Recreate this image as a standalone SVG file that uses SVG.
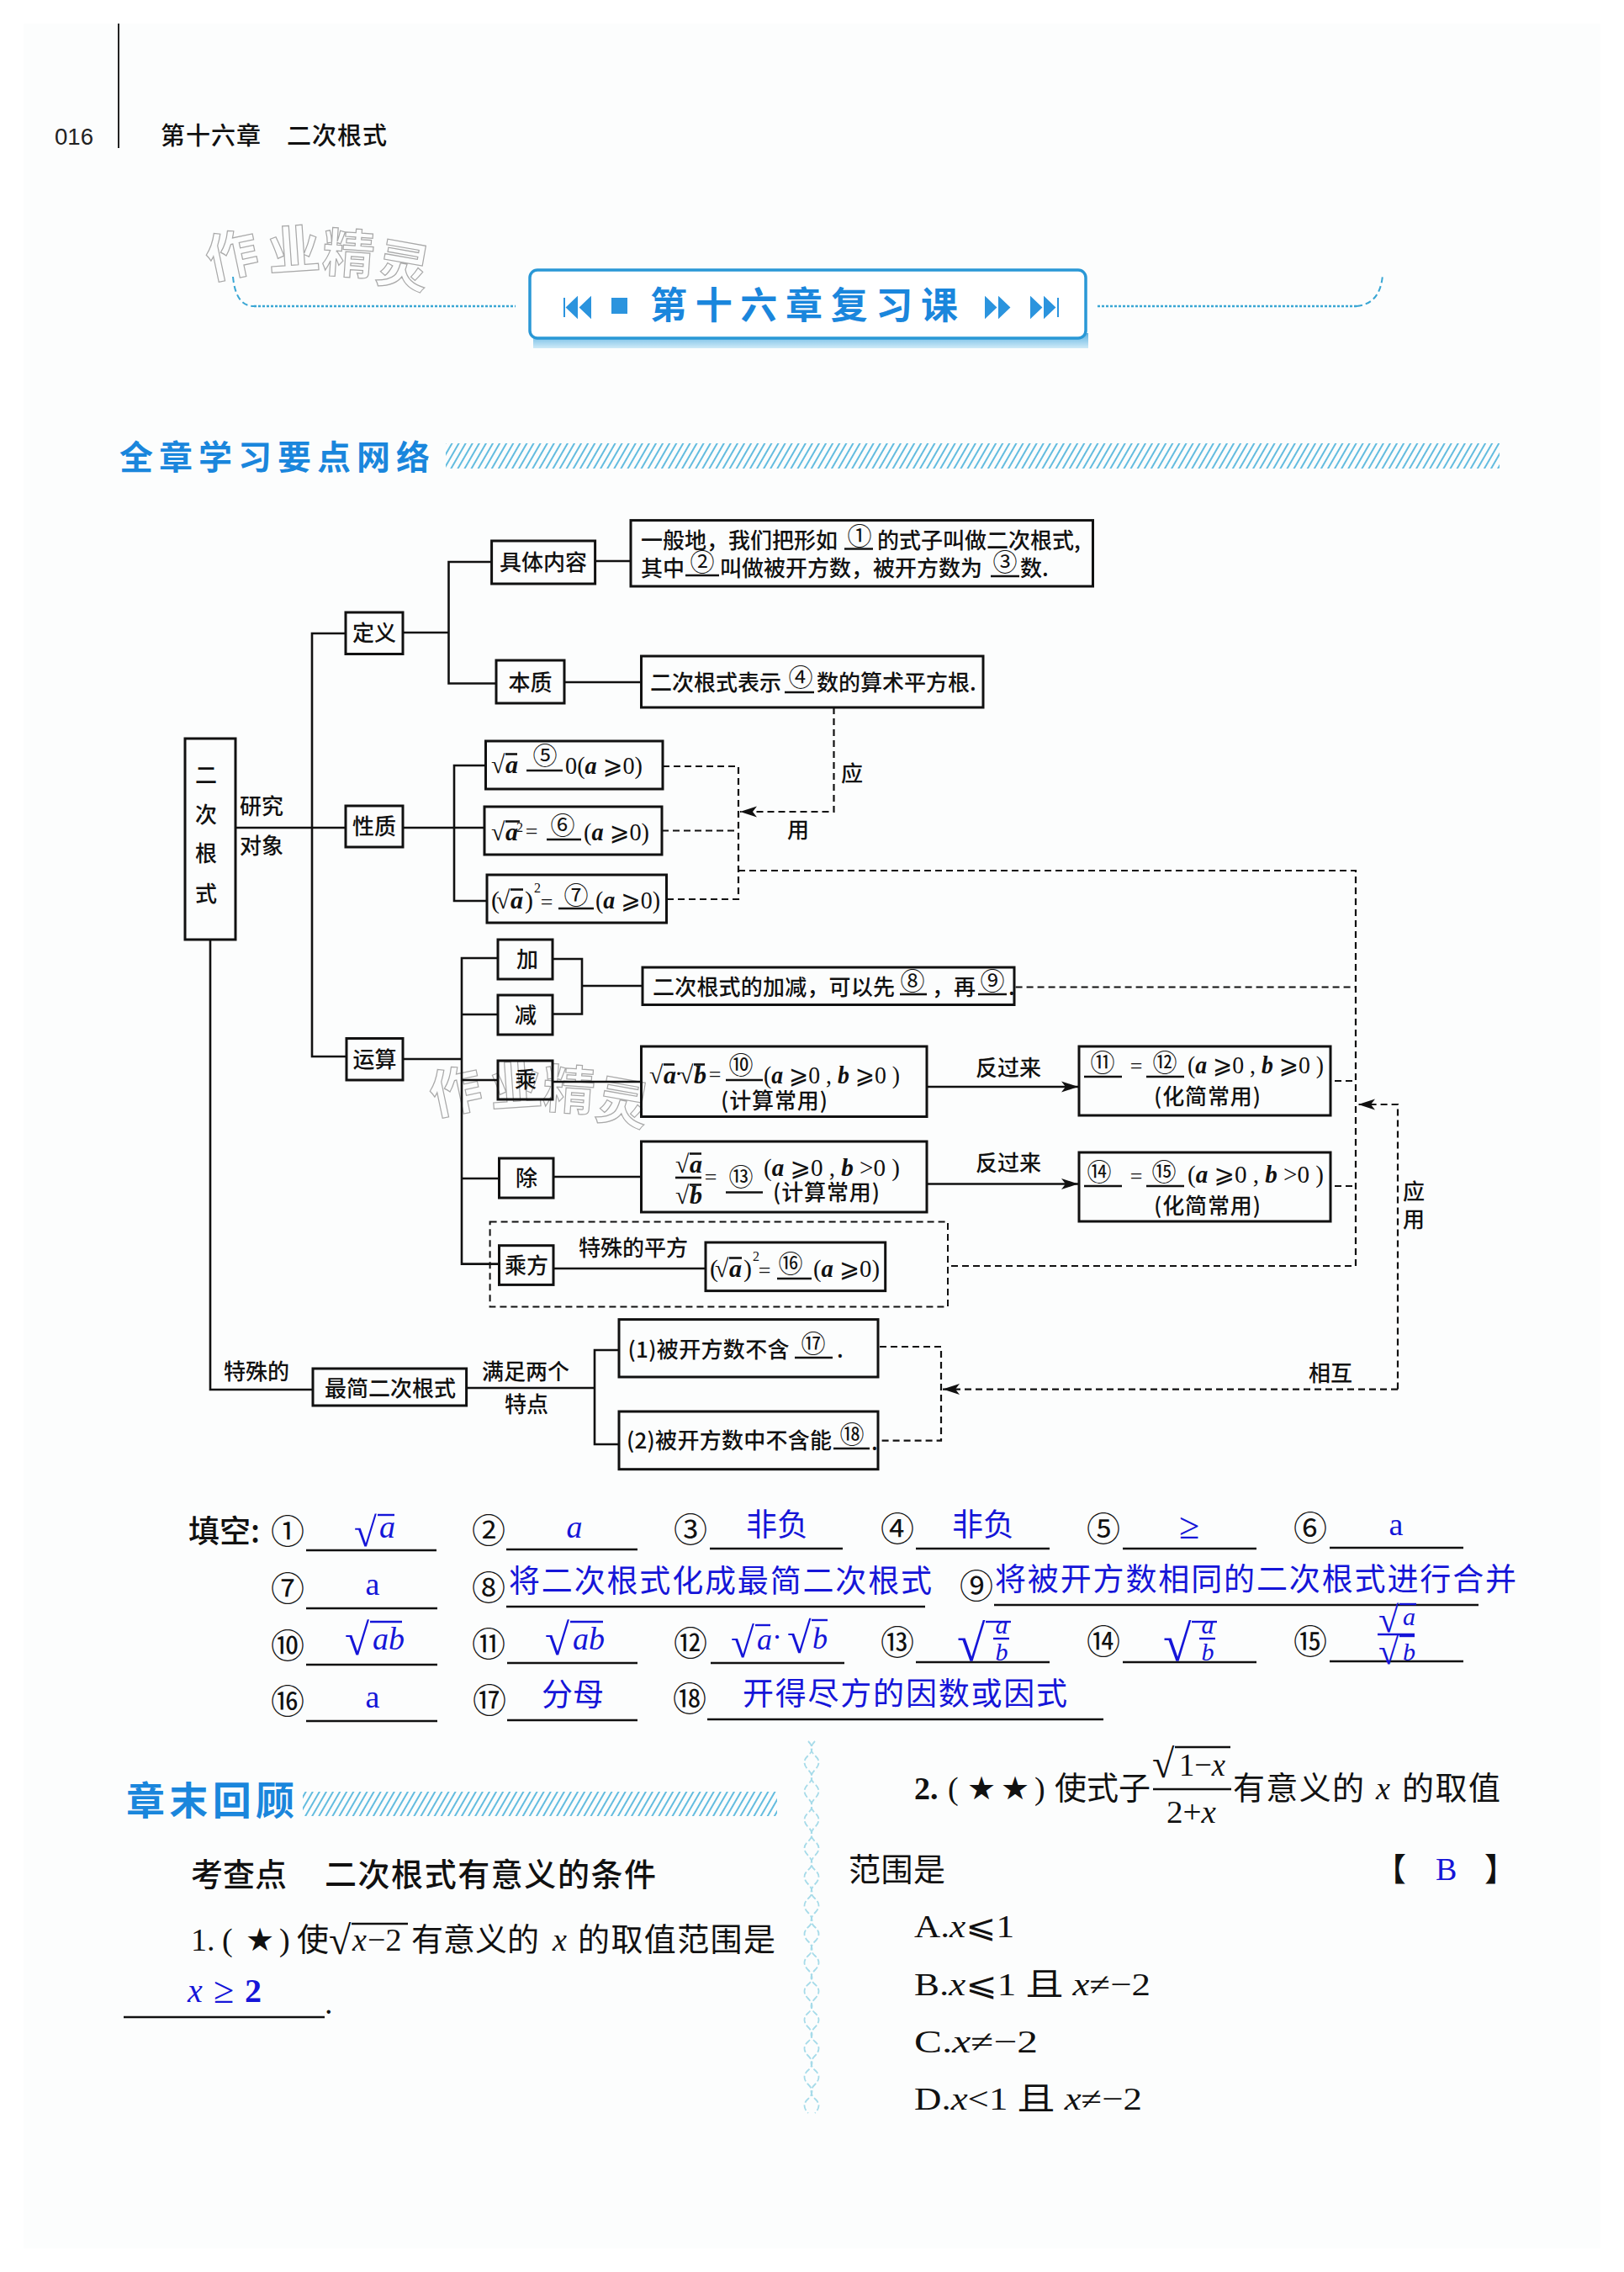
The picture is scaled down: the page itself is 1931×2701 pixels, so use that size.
<svg xmlns="http://www.w3.org/2000/svg" width="1931" height="2701" viewBox="0 0 1931 2701">
<style>
.c{font-family:"Noto Sans CJK SC",sans-serif;font-weight:500;fill:#111}
.n{font-family:"Noto Sans CJK SC",sans-serif;font-weight:400;fill:#111}
.m{font-family:"Liberation Serif","DejaVu Sans","Noto Sans CJK SC",serif;fill:#111}
.i{font-style:italic}
.bi{font-style:italic;font-weight:bold}
.s26{font-size:26px}.s30{font-size:30px}.s38{font-size:38px}.s40{font-size:40px}
.n.s26{font-size:29px}
.mid{text-anchor:middle}
.blue{font-family:"Noto Sans CJK SC",sans-serif;font-weight:400;fill:#1515d8;font-size:37px}
.bl{font-family:"Liberation Serif","Noto Sans CJK SC",serif;fill:#1515d8}
.box{fill:none;stroke:#111;stroke-width:3}
.ln{fill:none;stroke:#111;stroke-width:2.6}
.ds{fill:none;stroke:#111;stroke-width:2.2;stroke-dasharray:8 5}
.ul{stroke:#111;stroke-width:2.6}
.bul{stroke:#1515d8;stroke-width:2.4;fill:none}
.wm{font-family:"Noto Sans CJK SC",sans-serif;font-weight:700;font-size:62px;fill:none;stroke:#a8a8a8;stroke-width:1.2}
.head{font-family:"Noto Sans CJK SC",sans-serif;font-weight:700;fill:#1a86dc}
.dot{fill:none;stroke:#3aa6d4;stroke-width:2.6;stroke-dasharray:3 2}
.dash{fill:none;stroke:#3aa6d4;stroke-width:2;stroke-dasharray:7 4}
</style>
<defs>
<marker id="arrow" markerUnits="userSpaceOnUse" markerWidth="22" markerHeight="16" refX="20" refY="8" orient="auto"><path d="M0 1.5L20 8L0 14.5L5 8z" fill="#111"/></marker>
<pattern id="hatch" patternUnits="userSpaceOnUse" width="7" height="7" patternTransform="rotate(30)"><rect x="0" y="0" width="2" height="7" fill="#63bcdf"/></pattern>
<linearGradient id="shade" x1="0" y1="0" x2="0" y2="1"><stop offset="0" stop-color="#2a9ad8"/><stop offset="1" stop-color="#bfe4f6"/></linearGradient>
</defs>
<rect width="1931" height="2701" fill="#fff"/>
<rect x="28" y="28" width="1875" height="2645" fill="#fcfdfd"/>

<g id="page-header">
<line x1="141" y1="28" x2="141" y2="176" stroke="#222" stroke-width="2"/>
<text x="65" y="172" textLength="46" lengthAdjust="spacingAndGlyphs" font-family="Liberation Sans,sans-serif" font-size="28" fill="#222">016</text>
<text class="c" x="191" y="172" font-size="29" textLength="119">第十六章</text>
<text class="c" x="341" y="172" font-size="29" textLength="119">二次根式</text>
</g>

<g id="watermarks">
<text class="wm" x="250 320 382 445" y="332 322 322 333" rotate="-12 -4 4 10">作业精灵</text>
<text class="wm" x="516 584 644 706" y="1326 1316 1316 1328" rotate="-12 -4 4 10">作业精灵</text>
</g>

<g id="title-banner">
<path class="dash" d="M277 329C279 350 286 364 302 364"/>
<path class="dot" d="M302 364H613"/>
<path class="dot" d="M1305 364H1613"/>
<path class="dash" d="M1613 364C1632 362 1642 350 1644 327"/>
<rect x="634" y="396" width="660" height="18" fill="url(#shade)" opacity=".75"/>
<rect x="630" y="321" width="661" height="81" rx="9" fill="#fff" stroke="#2a98d6" stroke-width="3.5"/>
<path d="M671 354V377M686 354L674 365.5L686 377zM702 354L690 365.5L702 377z" fill="#2b94de" stroke="#2b94de" stroke-width="2"/>
<rect x="727" y="354" width="19" height="19" fill="#2b94de"/>
<path d="M1172 354L1184 365.500L1172 377zM1188 354L1200 365.500L1188 377zM1226 354L1238 365.500L1226 377zM1242 354L1254 365.500L1242 377zM1258 354V377" fill="#2b94de" stroke="#2b94de" stroke-width="2"/>
<text class="head" x="773" y="379" font-size="44" textLength="366">第十六章复习课</text>
</g>

<g id="section-heading-1">
<text class="head" x="142" y="558" font-size="40" textLength="369">全章学习要点网络</text>
<rect x="530" y="527" width="1253" height="30" fill="url(#hatch)"/>
</g>

<g id="connectors">
<path class="ln" d="M280 984H411"/>
<path class="ln" d="M411 753H371V1256H412"/>
<path class="ln" d="M479 752H533.500"/>
<path class="ln" d="M584.600 668H533.500V812.500H590"/>
<path class="ln" d="M707.600 667H750"/>
<path class="ln" d="M671 811H762.500"/>
<path class="ln" d="M479 984H576"/>
<path class="ln" d="M577.500 910H540V1071H579"/>
<path class="ln" d="M479 1259H549"/>
<path class="ln" d="M592 1139H549V1502.600H593.500"/>
<path class="ln" d="M549 1206H592"/>
<path class="ln" d="M549 1284H592"/>
<path class="ln" d="M549 1401H593.500"/>
<path class="ln" d="M657 1140H692V1205.500H657"/>
<path class="ln" d="M692 1172H764"/>
<path class="ln" d="M657 1286H762.500"/>
<path class="ln" d="M658 1399H762.500"/>
<path class="ln" d="M658 1508H839"/>
<path class="ln" d="M250 1117V1652H372"/>
<path class="ln" d="M554.600 1650H707"/>
<path class="ln" d="M736 1605H707V1717H736"/>
<path class="ln" d="M1102.500 1292H1282" marker-end="url(#arrow)"/>
<path class="ln" d="M1102.500 1407.500H1282" marker-end="url(#arrow)"/>
<path class="ds" d="M788 911H878V1069H792.500"/>
<path class="ds" d="M787 987.500H878"/>
<path class="ds" d="M991.500 841V965H880" marker-end="url(#arrow)"/>
<path class="ds" d="M878 1035H1612V1505H1127.500"/>
<path class="ds" d="M1207.600 1173.500H1612"/>
<path class="ds" d="M1587 1285H1612"/>
<path class="ds" d="M1587 1410H1612"/>
<path class="ds" d="M1662 1651.600V1313H1615" marker-end="url(#arrow)"/>
<path class="ds" d="M1662 1651.600H1121" marker-end="url(#arrow)"/>
<path class="ds" d="M1046 1601H1119V1712.600H1045"/>
</g>

<g id="connector-labels">
<text class="c s26 mid" x="1013" y="929">应</text>
<text class="c s26 mid" x="949" y="996">用</text>
<text class="c s26" x="285" y="968">研究</text>
<text class="c s26" x="285" y="1015">对象</text>
<text class="c s26" x="1160" y="1279">反过来</text>
<text class="c s26" x="1160" y="1392">反过来</text>
<text class="c s26" x="688" y="1493">特殊的平方</text>
<text class="c s26" x="266" y="1640">特殊的</text>
<text class="c s26" x="573" y="1640">满足两个</text>
<text class="c s26" x="600" y="1679">特点</text>
<text class="c s26 mid" x="1681" y="1426">应</text>
<text class="c s26 mid" x="1681" y="1459">用</text>
<text class="c s26" x="1556" y="1642">相互</text>
</g>

<g id="node-root">
<rect class="box" x="220" y="878" width="60" height="239"/>
<text class="c s26 mid" x="245" y="931">二</text>
<text class="c s26 mid" x="245" y="978">次</text>
<text class="c s26 mid" x="245" y="1024">根</text>
<text class="c s26 mid" x="245" y="1072">式</text>
</g>
<g id="node-dingyi"><rect class="box" x="411" y="728" width="68" height="49.500"/><text class="c s26 mid" x="445" y="762">定义</text></g>
<g id="node-juti"><rect class="box" x="584.600" y="643" width="123" height="51"/><text class="c s26 mid" x="646" y="678">具体内容</text></g>
<g id="node-juti-text">
<rect class="box" x="750" y="618.600" width="549.500" height="78.400"/>
<text class="c s26" x="762" y="652">一般地，我们把形如</text>
<text class="n s26 mid" x="1022" y="648">①</text>
<line class="ul" x1="1004" y1="652.500" x2="1038" y2="652.500"/>
<text class="c s26" x="1043" y="652">的式子叫做二次根式,</text>
<text class="c s26" x="762" y="685">其中</text>
<text class="n s26 mid" x="835" y="679">②</text>
<line class="ul" x1="815" y1="684" x2="855" y2="684"/>
<text class="c s26" x="856" y="685">叫做被开方数，被开方数为</text>
<text class="n s26 mid" x="1195" y="679">③</text>
<line class="ul" x1="1178" y1="685" x2="1212" y2="685"/>
<text class="c s26" x="1213" y="685">数.</text>
</g>
<g id="node-benzhi"><rect class="box" x="590" y="785" width="81" height="51"/><text class="c s26 mid" x="630.500" y="821">本质</text></g>
<g id="node-benzhi-text">
<rect class="box" x="762.500" y="780" width="406.500" height="61"/>
<text class="c s26" x="773" y="821">二次根式表示</text>
<text class="n s26 mid" x="952" y="816">④</text>
<line class="ul" x1="933" y1="823" x2="968" y2="823"/>
<text class="c s26" x="971" y="821">数的算术平方根.</text>
</g>
<g id="node-xingzhi"><rect class="box" x="411" y="958" width="68" height="49"/><text class="c s26 mid" x="445" y="992">性质</text></g>
<g id="node-p5">
<rect class="box" x="577.500" y="881" width="210.500" height="57"/>
<text class="m s30" x="584" y="919">√</text><line class="ul" x1="601" y1="896.500" x2="615" y2="896.500"/><text class="m s30 bi" x="601" y="919">a</text>
<text class="n s26 mid" x="648" y="909">⑤</text>
<line class="ul" x1="626" y1="916" x2="669" y2="916"/>
<text class="m s30" x="672" y="920" textLength="92" lengthAdjust="spacingAndGlyphs">0(<tspan class="bi">a</tspan> ⩾0)</text>
</g>
<g id="node-p6">
<rect class="box" x="576" y="959" width="211" height="57"/>
<text class="m s30" x="584" y="999">√</text><line class="ul" x1="601" y1="976.500" x2="618" y2="976.500"/><text class="m s30 bi" x="601" y="999">a</text><text class="m" font-size="16" x="614" y="989">2</text>
<text class="m s26 mid" x="632" y="997">=</text>
<text class="n s26 mid" x="669" y="992">⑥</text>
<line class="ul" x1="650" y1="998" x2="691" y2="998"/>
<text class="m s30" x="694" y="999" textLength="78" lengthAdjust="spacingAndGlyphs">(<tspan class="bi">a</tspan> ⩾0)</text>
</g>
<g id="node-p7">
<rect class="box" x="579" y="1040" width="213.500" height="57"/>
<text class="m s30" x="584" y="1080">(</text><text class="m s30" x="590" y="1080">√</text><line class="ul" x1="607" y1="1057.500" x2="622" y2="1057.500"/><text class="m s30 bi" x="607" y="1080">a</text><text class="m s30" x="624" y="1080">)</text><text class="m" font-size="16" x="635" y="1061">2</text>
<text class="m s26 mid" x="650" y="1081">=</text>
<text class="n s26 mid" x="685" y="1075">⑦</text>
<line class="ul" x1="664" y1="1080" x2="706" y2="1080"/>
<text class="m s30" x="708" y="1080" textLength="77" lengthAdjust="spacingAndGlyphs">(<tspan class="bi">a</tspan> ⩾0)</text>
</g>
<g id="node-yunsuan"><rect class="box" x="412" y="1234.500" width="67" height="49.500"/><text class="c s26 mid" x="445.500" y="1269">运算</text></g>
<g id="node-jia"><rect class="box" x="592" y="1117" width="65" height="47"/><text class="c s26 mid" x="627" y="1150">加</text></g>
<g id="node-jian"><rect class="box" x="592" y="1183" width="65" height="47"/><text class="c s26 mid" x="625" y="1216">减</text></g>
<g id="node-jiajian-text">
<rect class="box" x="764" y="1150" width="442" height="44.500"/>
<text class="c s26" x="776" y="1183" textLength="288">二次根式的加减，可以先</text>
<text class="n s26 mid" x="1085" y="1177">⑧</text>
<line class="ul" x1="1070" y1="1182" x2="1102" y2="1182"/>
<text class="c s26" x="1108" y="1183">，再</text>
<text class="n s26 mid" x="1180" y="1177">⑨</text>
<line class="ul" x1="1163" y1="1182" x2="1197" y2="1182"/>
<text class="c s26" x="1199" y="1183">.</text>
</g>
<g id="node-cheng"><rect class="box" x="592" y="1261" width="65" height="46"/><text class="c s26 mid" x="625" y="1293">乘</text></g>
<g id="node-cheng-text">
<rect class="box" x="762.500" y="1244" width="339.500" height="83.500"/>
<text class="m s30" x="772" y="1288">√</text><line class="ul" x1="789" y1="1265.500" x2="802" y2="1265.500"/><text class="m s30 bi" x="789" y="1288">a</text>
<text class="m s30" x="802" y="1286">·</text>
<text class="m s30" x="808" y="1288">√</text><line class="ul" x1="825" y1="1265.500" x2="838" y2="1265.500"/><text class="m s30 bi" x="825" y="1288">b</text>
<text class="m s26 mid" x="850" y="1286">=</text>
<text class="n s26 mid" x="881" y="1277">⑩</text>
<line class="ul" x1="863" y1="1284" x2="907" y2="1284"/>
<text class="m s30" x="908" y="1288" textLength="162" lengthAdjust="spacingAndGlyphs">(<tspan class="bi">a</tspan> ⩾0 , <tspan class="bi">b</tspan> ⩾0 )</text>
<text class="c s26" x="857" y="1318" textLength="127">(计算常用)</text>
</g>
<g id="node-fan1">
<rect class="box" x="1283" y="1244" width="299" height="82"/>
<text class="n s26 mid" x="1311" y="1274">⑪</text>
<line class="ul" x1="1289" y1="1280" x2="1334" y2="1280"/>
<text class="m s26 mid" x="1351" y="1276">=</text>
<text class="n s26 mid" x="1385" y="1274">⑫</text>
<line class="ul" x1="1363" y1="1280" x2="1408" y2="1280"/>
<text class="m s30" x="1412" y="1276" textLength="162" lengthAdjust="spacingAndGlyphs">(<tspan class="bi">a</tspan> ⩾0 , <tspan class="bi">b</tspan> ⩾0 )</text>
<text class="c s26" x="1372" y="1313" textLength="127">(化简常用)</text>
</g>
<g id="node-chu"><rect class="box" x="593.500" y="1377" width="64.500" height="47"/><text class="c s26 mid" x="626" y="1410">除</text></g>
<g id="node-chu-text">
<rect class="box" x="762.500" y="1357" width="339.500" height="84"/>
<text class="m s30" x="803" y="1394">√</text><line class="ul" x1="820" y1="1371.500" x2="834" y2="1371.500"/><text class="m s30 bi" x="820" y="1394">a</text>
<line class="ul" x1="803" y1="1400" x2="834" y2="1400"/>
<text class="m s30" x="803" y="1431">√</text><line class="ul" x1="820" y1="1408.500" x2="834" y2="1408.500"/><text class="m s30 bi" x="820" y="1431">b</text>
<text class="m s26 mid" x="845" y="1408">=</text>
<text class="n s26 mid" x="881" y="1410">⑬</text>
<line class="ul" x1="863" y1="1417.500" x2="907" y2="1417.500"/>
<text class="m s30" x="908" y="1398" textLength="162" lengthAdjust="spacingAndGlyphs">(<tspan class="bi">a</tspan> ⩾0 , <tspan class="bi">b</tspan> &gt;0 )</text>
<text class="c s26" x="919" y="1427" textLength="127">(计算常用)</text>
</g>
<g id="node-fan2">
<rect class="box" x="1283" y="1370" width="299" height="82"/>
<text class="n s26 mid" x="1307" y="1404">⑭</text>
<line class="ul" x1="1289" y1="1410" x2="1334" y2="1410"/>
<text class="m s26 mid" x="1351" y="1407">=</text>
<text class="n s26 mid" x="1384" y="1404">⑮</text>
<line class="ul" x1="1363" y1="1410" x2="1408" y2="1410"/>
<text class="m s30" x="1412" y="1406" textLength="162" lengthAdjust="spacingAndGlyphs">(<tspan class="bi">a</tspan> ⩾0 , <tspan class="bi">b</tspan> &gt;0 )</text>
<text class="c s26" x="1372" y="1443" textLength="127">(化简常用)</text>
</g>
<g id="node-chengfang-group"><rect x="582.600" y="1452.500" width="544.400" height="101" fill="none" stroke="#111" stroke-width="2" stroke-dasharray="8 5"/></g>
<g id="node-chengfang"><rect class="box" x="593.500" y="1480.700" width="64.500" height="46.700"/><text class="c s26 mid" x="626" y="1514">乘方</text></g>
<g id="node-chengfang-text">
<rect class="box" x="839" y="1477" width="213.700" height="57.600"/>
<text class="m s30" x="844" y="1518">(</text><text class="m s30" x="850" y="1518">√</text><line class="ul" x1="867" y1="1495.500" x2="882" y2="1495.500"/><text class="m s30 bi" x="867" y="1518">a</text><text class="m s30" x="884" y="1518">)</text><text class="m" font-size="16" x="895" y="1499">2</text>
<text class="m s26 mid" x="909" y="1519">=</text>
<text class="n s26 mid" x="940" y="1513">⑯</text>
<line class="ul" x1="924" y1="1520" x2="965" y2="1520"/>
<text class="m s30" x="967" y="1518" textLength="79" lengthAdjust="spacingAndGlyphs">(<tspan class="bi">a</tspan> ⩾0)</text>
</g>
<g id="node-zuijian"><rect class="box" x="372" y="1627" width="182.600" height="44"/><text class="c s26 mid" x="464" y="1660">最简二次根式</text></g>
<g id="node-tedian1">
<rect class="box" x="736" y="1568.600" width="308" height="68.400"/>
<text class="c s26" x="746.500" y="1614" textLength="192">(1)被开方数不含</text>
<text class="n s26 mid" x="967" y="1608">⑰</text>
<line class="ul" x1="945" y1="1614" x2="990" y2="1614"/>
<text class="c s26" x="995" y="1614">.</text>
</g>
<g id="node-tedian2">
<rect class="box" x="736" y="1678" width="308" height="68.700"/>
<text class="c s26" x="745" y="1722" textLength="244">(2)被开方数中不含能</text>
<text class="n s26 mid" x="1013" y="1716">⑱</text>
<line class="ul" x1="991" y1="1722" x2="1034" y2="1722"/>
<text class="c s26" x="1036" y="1724">.</text>
</g>

<g id="answers">
<text class="c" x="224" y="1834" font-size="37">填空:</text>
<g id="row1">
<text class="n s40 mid" x="342" y="1835">①</text><line class="ul" x1="364" y1="1843" x2="519" y2="1843"/>
<text class="bl" x="421" y="1838" font-size="49">√</text><line class="bul" x1="449" y1="1801" x2="469" y2="1801"/><text class="bl i" x="451" y="1828" font-size="38">a</text>
<text class="n s40 mid" x="581" y="1834">②</text><line class="ul" x1="602" y1="1842" x2="758" y2="1842"/><text class="bl i mid" x="683" y="1828" font-size="38">a</text>
<text class="n s40 mid" x="821" y="1833">③</text><line class="ul" x1="844" y1="1841" x2="1002" y2="1841"/><text class="blue" x="887" y="1826">非负</text>
<text class="n s40 mid" x="1067" y="1832">④</text><line class="ul" x1="1089" y1="1841" x2="1248" y2="1841"/><text class="blue" x="1132" y="1826">非负</text>
<text class="n s40 mid" x="1312" y="1832">⑤</text><line class="ul" x1="1335" y1="1841" x2="1494" y2="1841"/><text class="bl mid" x="1414" y="1829" font-size="44">≥</text>
<text class="n s40 mid" x="1558" y="1831">⑥</text><line class="ul" x1="1581" y1="1840" x2="1740" y2="1840"/><text class="bl mid" x="1660" y="1825" font-size="38">a</text>
</g>
<g id="row2">
<text class="n s40 mid" x="342" y="1903">⑦</text><line class="ul" x1="364" y1="1912" x2="520" y2="1912"/><text class="bl mid" x="443" y="1896" font-size="38">a</text>
<text class="n s40 mid" x="581" y="1902">⑧</text><line class="ul" x1="602" y1="1910" x2="1100" y2="1910"/><text class="blue" x="605" y="1893" textLength="503">将二次根式化成最简二次根式</text>
<text class="n s40 mid" x="1161" y="1900">⑨</text><line class="ul" x1="1182" y1="1908" x2="1758" y2="1908"/><text class="blue" x="1183" y="1891" textLength="620">将被开方数相同的二次根式进行合并</text>
</g>
<g id="row3">
<text class="n s40 mid" x="342" y="1971">⑩</text><line class="ul" x1="364" y1="1979" x2="520" y2="1979"/>
<text class="bl" x="410" y="1967" font-size="53">√</text><line class="bul" x1="440" y1="1928" x2="478" y2="1928"/><text class="bl i" x="443" y="1961" font-size="38">ab</text>
<text class="n s40 mid" x="581" y="1969">⑪</text><line class="ul" x1="603" y1="1977" x2="758" y2="1977"/>
<text class="bl" x="648" y="1967" font-size="53">√</text><line class="bul" x1="678" y1="1928" x2="717" y2="1928"/><text class="bl i" x="681" y="1961" font-size="38">ab</text>
<text class="n s40 mid" x="821" y="1968">⑫</text><line class="ul" x1="845" y1="1977" x2="1004" y2="1977"/>
<text class="bl" x="869" y="1970" font-size="51">√</text><line class="bul" x1="898" y1="1932" x2="916" y2="1932"/><text class="bl i" x="900" y="1961" font-size="36">a</text><text class="bl" x="918" y="1958" font-size="36">·</text>
<text class="bl" x="936" y="1965" font-size="52">√</text><line class="bul" x1="965" y1="1926" x2="984" y2="1926"/><text class="bl i" x="966" y="1960" font-size="36">b</text>
<text class="n s40 mid" x="1067" y="1967">⑬</text><line class="ul" x1="1089" y1="1976" x2="1248" y2="1976"/>
<text class="bl" x="1138" y="1974" font-size="61">√</text><line class="bul" x1="1172" y1="1928" x2="1202" y2="1928"/><text class="bl i mid" x="1191" y="1942" font-size="30">a</text><line class="bul" x1="1181" y1="1948" x2="1200" y2="1948"/><text class="bl i mid" x="1191" y="1974" font-size="30">b</text>
<text class="n s40 mid" x="1312" y="1966">⑭</text><line class="ul" x1="1335" y1="1976" x2="1494" y2="1976"/>
<text class="bl" x="1383" y="1974" font-size="61">√</text><line class="bul" x1="1417" y1="1928" x2="1447" y2="1928"/><text class="bl i mid" x="1436" y="1942" font-size="30">a</text><line class="bul" x1="1426" y1="1948" x2="1445" y2="1948"/><text class="bl i mid" x="1436" y="1974" font-size="30">b</text>
<text class="n s40 mid" x="1558" y="1966">⑮</text><line class="ul" x1="1581" y1="1975" x2="1740" y2="1975"/>
<text class="bl" x="1639" y="1940" font-size="44">√</text><line class="bul" x1="1664" y1="1907" x2="1684" y2="1907"/><text class="bl i" x="1668" y="1932" font-size="30">a</text>
<line class="bul" x1="1638" y1="1943" x2="1682" y2="1943"/>
<text class="bl" x="1639" y="1978" font-size="44">√</text><line class="bul" x1="1664" y1="1945" x2="1682" y2="1945"/><text class="bl i" x="1668" y="1974" font-size="30">b</text>
</g>
<g id="row4">
<text class="n s40 mid" x="342" y="2037">⑯</text><line class="ul" x1="364" y1="2046" x2="520" y2="2046"/><text class="bl mid" x="443" y="2030" font-size="38">a</text>
<text class="n s40 mid" x="582" y="2036">⑰</text><line class="ul" x1="603" y1="2045" x2="758" y2="2045"/><text class="blue" x="644" y="2028">分母</text>
<text class="n s40 mid" x="820" y="2034">⑱</text><line class="ul" x1="841" y1="2044" x2="1312" y2="2044"/><text class="blue" x="883" y="2027" textLength="386">开得尽方的因数或因式</text>
</g>
</g>

<g id="section-heading-2">
<text class="head" x="150" y="2157" font-size="46" textLength="200">章末回顾</text>
<rect x="360" y="2130" width="564" height="29" fill="url(#hatch)"/>
</g>
<g id="divider">
<path d="M961 2070q9 9 0 17t0 17t0 17t0 17t0 17t0 17t0 17t0 17t0 17t0 17t0 17t0 17t0 17t0 17t0 17t0 17t0 17t0 17t0 17t0 17t0 17t0 17t0 17t0 17t0 17t0 17" fill="none" stroke="#a6dbe9" stroke-width="1.800" stroke-dasharray="7 3"/>
<path d="M969 2070q-9 9 0 17t0 17t0 17t0 17t0 17t0 17t0 17t0 17t0 17t0 17t0 17t0 17t0 17t0 17t0 17t0 17t0 17t0 17t0 17t0 17t0 17t0 17t0 17t0 17t0 17t0 17" fill="none" stroke="#a6dbe9" stroke-width="1.800" stroke-dasharray="7 3"/>
</g>
<g id="question-1">
<text class="c" x="227" y="2242" font-size="38" font-weight="700">考查点</text>
<text class="c" x="386" y="2242" font-size="38" textLength="394" font-weight="700">二次根式有意义的条件</text>
<text class="m s38" x="227" y="2319">1.</text>
<text class="m s38" x="264" y="2319">(</text>
<text class="m s38" x="292" y="2319">★</text>
<text class="m s38" x="332" y="2319">)</text>
<text class="n s38" x="353" y="2319">使</text>
<text class="m" font-size="48" x="391" y="2323">√</text><line class="ul" x1="418" y1="2287" x2="485" y2="2287"/>
<text class="m s38 i" x="419" y="2319">x</text><text class="m s38" x="437" y="2319">−2</text>
<text class="n s38" x="489" y="2319">有意义的</text>
<text class="m s38 i" x="657" y="2319">x</text>
<text class="n s38" x="687" y="2319" textLength="235">的取值范围是</text>
<text class="bl i" x="223" y="2380" font-size="40">x</text><text class="bl" x="254" y="2381" font-size="44">≥</text><text class="bl" font-weight="700" x="291" y="2380" font-size="40">2</text>
<line class="ul" x1="147" y1="2398" x2="386" y2="2398"/>
<text class="m s38" x="386" y="2394">.</text>
</g>
<g id="question-2">
<text class="m s38" x="1087" y="2139" font-weight="700">2.</text>
<text class="m s38" x="1127" y="2139">(</text>
<text class="m s38" x="1150" y="2139">★</text>
<text class="m s38" x="1190" y="2139">★</text>
<text class="m s38" x="1230" y="2139">)</text>
<text class="n s38" x="1254" y="2139">使式子</text>
<text class="m" font-size="48" x="1370" y="2113">√</text><line class="ul" x1="1397" y1="2077" x2="1463" y2="2077"/>
<text class="m s38" x="1402" y="2111" textLength="55" lengthAdjust="spacingAndGlyphs">1−<tspan class="i">x</tspan></text>
<line class="ul" x1="1371" y1="2127" x2="1464" y2="2127"/>
<text class="m s38" x="1387" y="2167" textLength="59" lengthAdjust="spacingAndGlyphs">2+<tspan class="i">x</tspan></text>
<text class="n s38" x="1466" y="2139" textLength="156">有意义的</text>
<text class="m s38 i" x="1636" y="2139">x</text>
<text class="n s38" x="1667" y="2139" textLength="117">的取值</text>
<text class="n s38" x="1009" y="2236" textLength="115">范围是</text>
<text class="c s38" x="1634" y="2236">【</text>
<text class="bl" x="1707" y="2235" font-size="38">B</text>
<text class="c s38" x="1765" y="2236">】</text>
<text class="m s38" x="1087" y="2303" textLength="119" lengthAdjust="spacingAndGlyphs">A.<tspan class="i">x</tspan>⩽1</text>
<text class="m s38" x="1087" y="2372" textLength="281" lengthAdjust="spacingAndGlyphs">B.<tspan class="i">x</tspan>⩽1 且 <tspan class="i">x</tspan>≠−2</text>
<text class="m s38" x="1087" y="2440" textLength="147" lengthAdjust="spacingAndGlyphs">C.<tspan class="i">x</tspan>≠−2</text>
<text class="m s38" x="1087" y="2508" textLength="271" lengthAdjust="spacingAndGlyphs">D.<tspan class="i">x</tspan>&lt;1 且 <tspan class="i">x</tspan>≠−2</text>
</g>
</svg>
